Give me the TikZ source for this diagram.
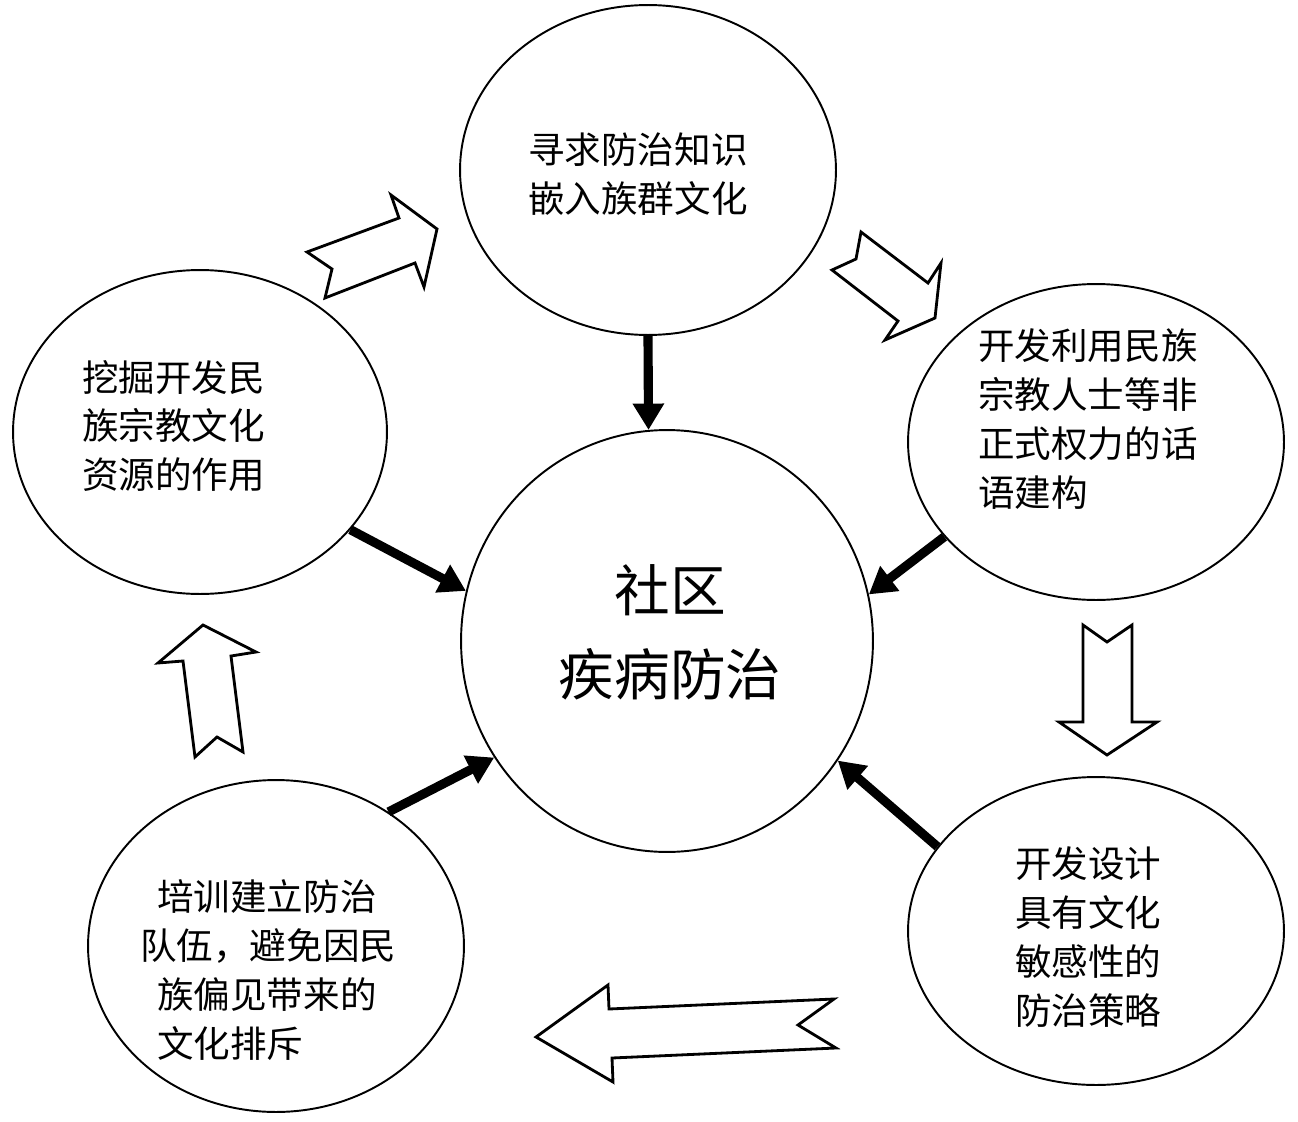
\documentclass[tikz,border=0pt]{standalone}
\usepackage{fontspec}
\newfontfamily\cjk{Noto Sans CJK SC}
\usetikzlibrary{shapes.geometric,arrows.meta}
\begin{document}
\begin{tikzpicture}[x=0.02cm,y=-0.02cm,
  bubble/.style={draw,ellipse,line width=1.1pt,inner sep=0pt},
  txt/.style={font=\cjk\fontsize{20.8}{27.8}\selectfont, align=left, anchor=west, inner sep=0pt},
  big/.style={font=\cjk\fontsize{31.7}{48}\selectfont, align=center, inner sep=0pt},
  flow/.style={line width=5.2pt, -{Triangle[width=17pt,length=15pt]}},
  hollow/.style={draw,line width=1.6pt,line join=miter,fill=white}]
\useasboundingbox[fill=white] (0,0) rectangle (1298,1122);

% bubbles
\node[bubble,minimum width=7.52cm,minimum height=6.6cm] (top) at (648,170) {};
\node[bubble,minimum width=8.24cm,minimum height=8.44cm] (cen) at (667,641) {};
\node[bubble,minimum width=7.48cm,minimum height=6.48cm] (lft) at (200,432) {};
\node[bubble,minimum width=7.52cm,minimum height=6.32cm] (rgt) at (1096,442) {};
\node[bubble,minimum width=7.52cm,minimum height=6.16cm] (br) at (1096,931) {};
\node[bubble,minimum width=7.52cm,minimum height=6.64cm] (bl) at (276,946) {};

% texts
\node[txt] (ttop) at (528,174) {寻求防治知识\\嵌入族群文化};
\node[big] (tcen) at (670,632) {社区\\疾病防治};
\node[txt] (tlft) at (82,426) {挖掘开发民\\族宗教文化\\资源的作用};
\node[txt] (trgt) at (978,419) {开发利用民族\\宗教人士等非\\正式权力的话\\语建构};
\node[txt] (tbr) at (1015,937) {开发设计\\具有文化\\敏感性的\\防治策略};
\node[txt] (tbl) at (157,970) {培训建立防治\\\hspace*{-0.34cm}队伍，避免因民\\族偏见带来的\\文化排斥};

% solid arrows
\draw[flow] (top.south) -- (cen.95);
\draw[flow] (rgt.212) -- (cen.13);
\draw[flow] (lft.-33) -- (cen.166);
\draw[flow] (br.152) -- (cen.-35);
\draw[flow] (bl.50) -- (cen.214);

% hollow block arrows
\draw[hollow] (307,252) -- (332,269) -- (325,298) -- (415,263) -- (424,287) -- (437,229) -- (391,195) -- (399,218) -- cycle;
\draw[hollow] (861,232) -- (928,283) -- (941,263) -- (935,318) -- (885,340) -- (898,321) -- (832,270) -- (856,259) -- cycle;
\draw[hollow] (1083,625) -- (1107,642) -- (1132,625) -- (1132,722) -- (1157,722) -- (1107,755) -- (1059,722) -- (1083,722) -- cycle;
\draw[hollow] (536,1037) -- (608,985) -- (609,1009) -- (834,999) -- (798,1025) -- (836,1048) -- (612,1058) -- (613,1082) -- cycle;
\draw[hollow] (203,625) -- (256,652) -- (231,656) -- (243,752) -- (217,737) -- (195,757) -- (183,661) -- (158,663) -- cycle;
\end{tikzpicture}
\end{document}
